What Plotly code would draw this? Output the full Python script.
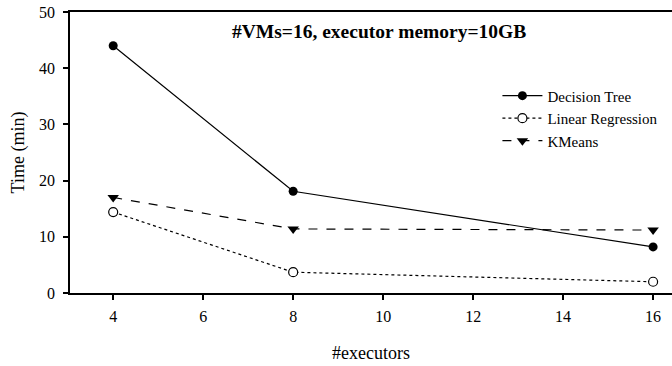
import plotly.graph_objects as go

executors = [4, 8, 16]
decision_tree = [44.0, 18.1, 8.2]
linear_regression = [14.4, 3.7, 2.0]
kmeans = [17.0, 11.4, 11.2]
x_ticks = [4, 6, 8, 10, 12, 14, 16]
y_ticks = [0, 10, 20, 30, 40, 50]

font = "Liberation Serif"

fig = go.Figure()
fig.add_trace(go.Scatter(x=executors, y=decision_tree, name="Decision Tree", mode="lines+markers",
                         line=dict(color="black", width=1.2, dash="solid"),
                         marker=dict(symbol="circle", size=9, color="black")))
fig.add_trace(go.Scatter(x=executors, y=linear_regression, name="Linear Regression", mode="lines+markers",
                         line=dict(color="black", width=1.2, dash="dot"),
                         marker=dict(symbol="circle", size=9, color="white",
                                     line=dict(width=1.2, color="black"))))
fig.add_trace(go.Scatter(x=executors, y=kmeans, name="KMeans", mode="lines+markers",
                         line=dict(color="black", width=1.2, dash="dash"),
                         marker=dict(symbol="triangle-down", size=10, color="black")))

fig.update_layout(
    width=672, height=366,
    margin=dict(l=70, r=0, t=12, b=73, autoexpand=False),
    paper_bgcolor="white", plot_bgcolor="white",
    font=dict(family=font, size=16, color="black"),
    showlegend=True,
    legend=dict(x=0.71, y=0.76, xanchor="left", yanchor="top", bgcolor="rgba(0,0,0,0)",
                font=dict(family=font, size=15, color="black"), tracegroupgap=0, itemwidth=40),
    xaxis=dict(range=[3.04, 16.42], tickvals=x_ticks, ticks="outside", ticklen=5, tickwidth=1.5,
               tickcolor="black", showline=True, linecolor="black", linewidth=1.5, mirror=True,
               showgrid=False, zeroline=False, automargin=False, ticklabelstandoff=3,
               tickfont=dict(family=font, size=16),
               title=dict(text="#executors", font=dict(family=font, size=18), standoff=22)),
    yaxis=dict(range=[0, 50], tickvals=y_ticks, ticks="outside", ticklen=5, tickwidth=1.5,
               tickcolor="black", showline=True, linecolor="black", linewidth=1.5,
               showgrid=False, zeroline=False, automargin=False, ticklabelstandoff=5,
               tickfont=dict(family=font, size=16),
               title=dict(text="Time (min)", font=dict(family=font, size=18), standoff=10)),
    annotations=[dict(text="<b>#VMs=16, executor memory=10GB</b>", x=0.513, y=0.93,
                      xref="paper", yref="paper", xanchor="center", yanchor="middle", showarrow=False,
                      font=dict(family=font, size=19.5, color="black"))],
)

fig.write_html("out.html", config={"displayModeBar": False},
               post_script="document.body.style.margin='0';document.body.style.overflow='hidden';")
